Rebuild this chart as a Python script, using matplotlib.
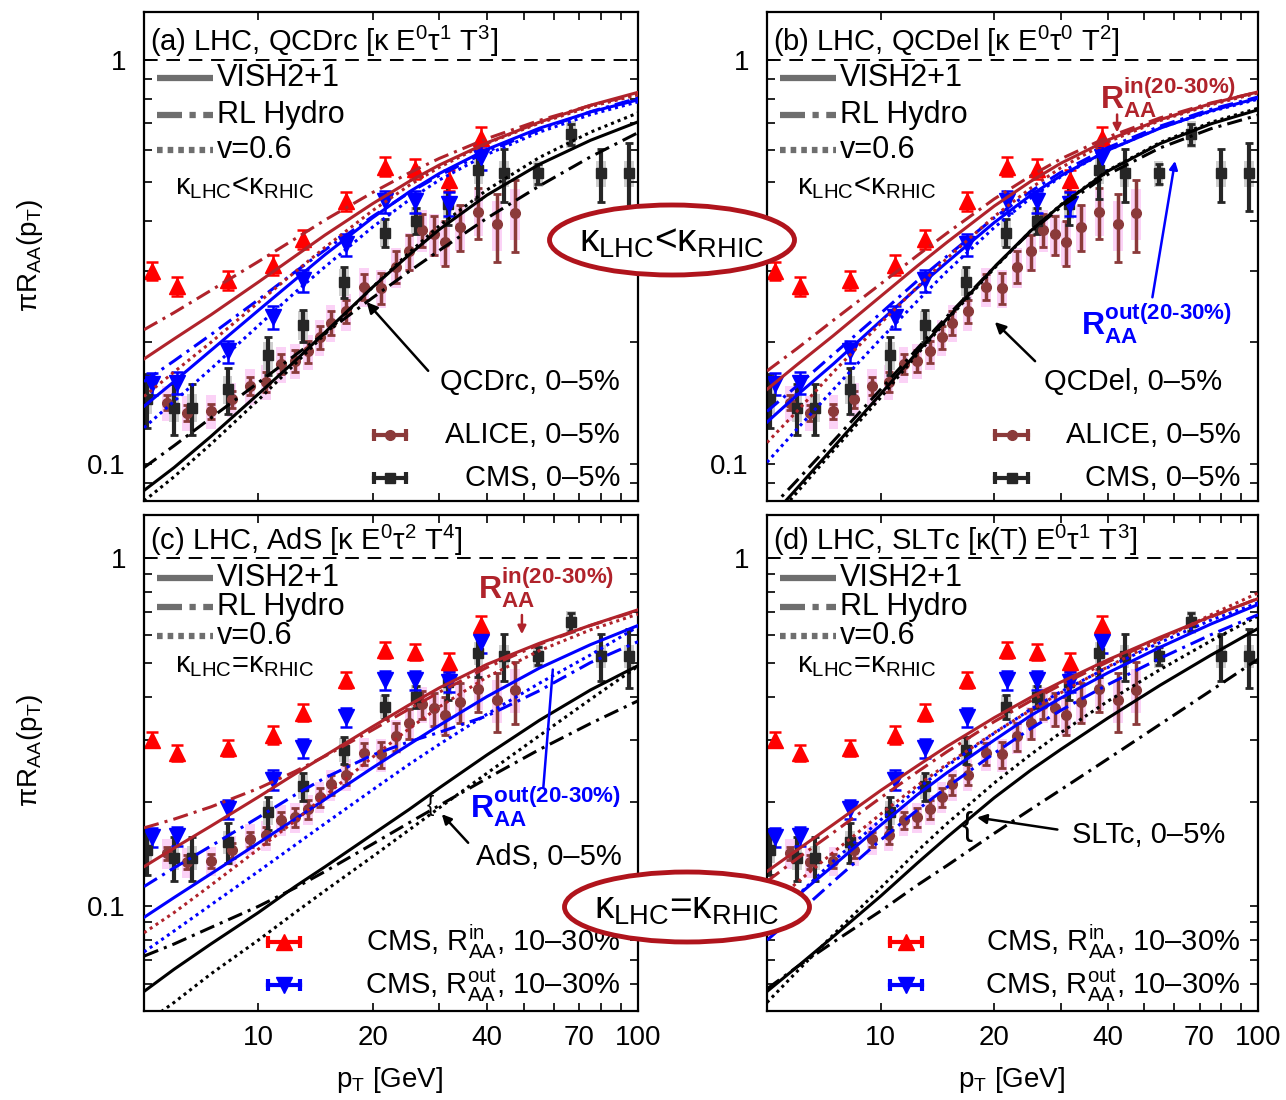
import matplotlib
matplotlib.use("Agg")
import matplotlib.pyplot as plt
from matplotlib.patches import Ellipse, Rectangle
from matplotlib.ticker import FixedLocator, NullFormatter, FixedFormatter

plt.rcParams['font.family'] = ['Liberation Sans', 'DejaVu Sans']
plt.rcParams['mathtext.fontset'] = 'custom'
plt.rcParams['mathtext.rm'] = 'Liberation Sans'
plt.rcParams['mathtext.it'] = 'Liberation Sans:italic'
plt.rcParams['mathtext.bf'] = 'Liberation Sans:bold'
plt.rcParams['mathtext.default'] = 'regular'

# ---------------------------------------------------------------- data
PT_GRID = [5, 6, 7.5, 10, 12.5, 15, 20, 25, 30, 40, 55, 75, 100]

# (a) QCDrc, kappa_LHC < kappa_RHIC
QCDRC_IN_VISH = [0.182, 0.204, 0.234, 0.282, 0.327, 0.369, 0.441, 0.501, 0.550, 0.624, 0.702, 0.773, 0.832]
QCDRC_IN_RL = [0.215, 0.237, 0.269, 0.317, 0.361, 0.402, 0.470, 0.526, 0.571, 0.639, 0.709, 0.772, 0.824]
QCDRC_IN_V06 = [0.147, 0.169, 0.200, 0.251, 0.299, 0.344, 0.424, 0.490, 0.543, 0.622, 0.698, 0.767, 0.820]
QCDRC_OUT_VISH = [0.139, 0.160, 0.191, 0.240, 0.286, 0.330, 0.407, 0.472, 0.524, 0.601, 0.678, 0.744, 0.797]
QCDRC_OUT_RL = [0.160, 0.180, 0.209, 0.255, 0.299, 0.339, 0.410, 0.470, 0.518, 0.593, 0.672, 0.745, 0.805]
QCDRC_OUT_V06 = [0.123, 0.143, 0.172, 0.220, 0.266, 0.308, 0.386, 0.451, 0.505, 0.584, 0.663, 0.733, 0.788]
QCDRC_CENT_VISH = [0.086, 0.098, 0.117, 0.149, 0.180, 0.212, 0.274, 0.330, 0.381, 0.463, 0.552, 0.633, 0.703]
QCDRC_CENT_RL = [0.098, 0.111, 0.130, 0.159, 0.186, 0.211, 0.258, 0.300, 0.338, 0.406, 0.488, 0.576, 0.661]
QCDRC_CENT_V06 = [0.081, 0.093, 0.112, 0.144, 0.177, 0.210, 0.274, 0.334, 0.389, 0.477, 0.574, 0.663, 0.740]

# (b) QCDel, kappa_LHC < kappa_RHIC
QCDEL_IN_VISH = [0.153, 0.176, 0.208, 0.260, 0.309, 0.354, 0.435, 0.501, 0.555, 0.634, 0.712, 0.780, 0.834]
QCDEL_IN_RL = [0.170, 0.193, 0.227, 0.279, 0.328, 0.373, 0.453, 0.517, 0.569, 0.645, 0.719, 0.783, 0.833]
QCDEL_IN_V06 = [0.113, 0.135, 0.169, 0.223, 0.274, 0.323, 0.410, 0.482, 0.541, 0.627, 0.708, 0.775, 0.829]
QCDEL_OUT_VISH = [0.127, 0.148, 0.177, 0.226, 0.273, 0.316, 0.396, 0.463, 0.517, 0.598, 0.678, 0.749, 0.805]
QCDEL_OUT_RL = [0.135, 0.156, 0.187, 0.236, 0.284, 0.327, 0.407, 0.473, 0.527, 0.607, 0.686, 0.755, 0.810]
QCDEL_OUT_V06 = [0.101, 0.122, 0.153, 0.204, 0.253, 0.300, 0.385, 0.456, 0.514, 0.598, 0.679, 0.746, 0.800]
QCDEL_CENT_VISH = [0.072, 0.087, 0.110, 0.149, 0.189, 0.229, 0.307, 0.378, 0.437, 0.531, 0.621, 0.695, 0.753]
QCDEL_CENT_RL = [0.076, 0.091, 0.114, 0.153, 0.193, 0.232, 0.307, 0.376, 0.432, 0.521, 0.606, 0.676, 0.730]
QCDEL_CENT_V06 = [0.070, 0.085, 0.108, 0.146, 0.187, 0.227, 0.305, 0.378, 0.438, 0.533, 0.625, 0.701, 0.760]

# (c) AdS, kappa_LHC = kappa_RHIC
ADS_IN_VISH = [0.130, 0.147, 0.170, 0.206, 0.240, 0.271, 0.328, 0.379, 0.424, 0.495, 0.569, 0.641, 0.710]
ADS_IN_RL = [0.168, 0.178, 0.193, 0.218, 0.244, 0.270, 0.321, 0.369, 0.412, 0.485, 0.565, 0.640, 0.706]
ADS_IN_V06 = [0.084, 0.096, 0.115, 0.146, 0.176, 0.208, 0.268, 0.324, 0.374, 0.455, 0.542, 0.622, 0.690]
ADS_OUT_VISH = [0.093, 0.106, 0.124, 0.152, 0.178, 0.203, 0.250, 0.292, 0.331, 0.400, 0.483, 0.564, 0.640]
ADS_OUT_RL = [0.114, 0.129, 0.149, 0.180, 0.209, 0.234, 0.272, 0.297, 0.316, 0.352, 0.416, 0.501, 0.575]
ADS_OUT_V06 = [0.074, 0.085, 0.101, 0.126, 0.150, 0.173, 0.216, 0.256, 0.292, 0.356, 0.437, 0.527, 0.635]
ADS_CENT_VISH = [0.057, 0.066, 0.078, 0.096, 0.114, 0.130, 0.161, 0.190, 0.219, 0.272, 0.342, 0.418, 0.491]
ADS_CENT_RL = [0.072, 0.078, 0.087, 0.100, 0.113, 0.126, 0.151, 0.174, 0.195, 0.233, 0.282, 0.335, 0.389]
ADS_CENT_V06 = [0.046, 0.053, 0.064, 0.080, 0.096, 0.111, 0.139, 0.166, 0.192, 0.241, 0.309, 0.393, 0.489]

# (d) SLTc, kappa_LHC = kappa_RHIC
SLTC_IN_VISH = [0.126, 0.145, 0.172, 0.215, 0.253, 0.288, 0.348, 0.398, 0.440, 0.510, 0.592, 0.679, 0.764]
SLTC_IN_RL = [0.118, 0.137, 0.163, 0.205, 0.243, 0.278, 0.339, 0.389, 0.432, 0.503, 0.587, 0.677, 0.765]
SLTC_IN_V06 = [0.098, 0.117, 0.143, 0.184, 0.222, 0.256, 0.315, 0.366, 0.410, 0.487, 0.582, 0.687, 0.793]
SLTC_OUT_VISH = [0.090, 0.107, 0.131, 0.171, 0.209, 0.242, 0.300, 0.353, 0.396, 0.468, 0.554, 0.646, 0.735]
SLTC_OUT_RL = [0.080, 0.095, 0.118, 0.155, 0.189, 0.220, 0.275, 0.324, 0.365, 0.433, 0.515, 0.602, 0.687]
SLTC_OUT_V06 = [0.088, 0.107, 0.135, 0.177, 0.217, 0.253, 0.314, 0.368, 0.413, 0.485, 0.572, 0.663, 0.743]
SLTC_CENT_VISH = [0.057, 0.067, 0.082, 0.107, 0.133, 0.158, 0.205, 0.246, 0.282, 0.347, 0.431, 0.526, 0.627]
SLTC_CENT_RL = [0.058, 0.067, 0.079, 0.097, 0.115, 0.131, 0.162, 0.190, 0.216, 0.265, 0.333, 0.416, 0.512]
SLTC_CENT_V06 = [0.053, 0.065, 0.083, 0.113, 0.144, 0.173, 0.226, 0.273, 0.315, 0.388, 0.478, 0.578, 0.681]

# ALICE charged hadrons, 0-5%
ALICE_PT = [5.75, 6.5, 7.5, 8.5, 9.5, 10.5, 11.5, 12.5, 13.5, 14.5, 15.5, 17.0,
            19.0, 21.0, 23.0, 25.0, 27.0, 29.0, 31.0, 34.0, 38.0, 42.5, 47.5]
ALICE_RAA = [0.142, 0.134, 0.135, 0.145, 0.156, 0.160, 0.177, 0.180, 0.190, 0.206,
             0.224, 0.239, 0.275, 0.273, 0.308, 0.336, 0.380, 0.370, 0.355, 0.387,
             0.421, 0.392, 0.419]
ALICE_STAT = [0.006, 0.006, 0.006, 0.007, 0.008, 0.009, 0.010, 0.011, 0.012, 0.013,
              0.015, 0.016, 0.020, 0.024, 0.028, 0.033, 0.035, 0.040, 0.045, 0.050,
              0.060, 0.075, 0.085]
ALICE_SYS = [0.014, 0.013, 0.013, 0.014, 0.016, 0.016, 0.018, 0.018, 0.019, 0.021,
             0.023, 0.025, 0.030, 0.030, 0.035, 0.038, 0.045, 0.045, 0.045, 0.050,
             0.055, 0.055, 0.060]

# CMS charged hadrons, 0-5%
CMS_PT = [5.1, 6.0, 6.7, 8.3, 10.6, 13.1, 16.8, 21.5, 26.0, 31.5, 38.0, 44.3,
          54.5, 66.6, 79.9, 94.7]
CMS_RAA = [0.145, 0.138, 0.138, 0.153, 0.186, 0.221, 0.282, 0.374, 0.400, 0.440,
           0.534, 0.524, 0.524, 0.656, 0.524, 0.524]
CMS_STAT = [0.022, 0.020, 0.020, 0.020, 0.020, 0.020, 0.025, 0.030, 0.030, 0.050,
            0.080, 0.080, 0.030, 0.040, 0.080, 0.100]
CMS_SYS = [0.012, 0.011, 0.011, 0.012, 0.015, 0.018, 0.022, 0.030, 0.032, 0.035,
           0.040, 0.040, 0.040, 0.050, 0.040, 0.040]

# CMS in-plane / out-of-plane, 10-30%
CMS_V2_PT = [5.25, 6.1, 8.3, 10.95, 13.1, 16.97, 21.6, 25.9, 31.7, 38.5]
CMS_IN_RAA = [0.301, 0.276, 0.285, 0.311, 0.360, 0.447, 0.545, 0.538, 0.504, 0.643]
CMS_IN_ERR = [0.015, 0.015, 0.015, 0.018, 0.020, 0.025, 0.030, 0.030, 0.030, 0.040]
CMS_OUT_RAA = [0.158, 0.159, 0.190, 0.231, 0.285, 0.350, 0.447, 0.447, 0.441, 0.574]
CMS_OUT_ERR = [0.010, 0.010, 0.012, 0.015, 0.018, 0.022, 0.028, 0.028, 0.030, 0.040]

X_TICKS = [10, 20, 40, 70, 100]
X_MINOR = [30, 50, 60, 80, 90]
Y_TICKS = [0.1, 1]

# ---------------------------------------------------------------- style
C_IN = '#b0232b'
C_OUT = '#0000ff'
C_CENT = 'black'
C_ALICE = '#8b3a3a'
C_CMS = '#262626'
LS = {'VISH': '-', 'RL': (0, (5, 2, 1, 2)), 'V06': (0, (1, 1.3))}
FS = 21
LFS = 22

W, H = 1286, 1100
fig = plt.figure(figsize=(12.86, 11.0), dpi=100)


def box(l, t, r, b):
    return [l / W, 1 - b / H, (r - l) / W, (b - t) / H]


def draw_data(ax):
    for pt, v, s in zip(ALICE_PT, ALICE_RAA, ALICE_SYS):
        ax.add_patch(Rectangle((pt / 1.03, v - s), pt * 1.03 - pt / 1.03, 2 * s,
                               fc='#fbd2f6', ec='none', zorder=1))
    for pt, v, s in zip(CMS_PT, CMS_RAA, CMS_SYS):
        ax.add_patch(Rectangle((pt / 1.03, v - s), pt * 1.03 - pt / 1.03, 2 * s,
                               fc='#cfcfcf', ec='none', zorder=1))
    ax.errorbar(ALICE_PT, ALICE_RAA, yerr=ALICE_STAT, fmt='o', color=C_ALICE,
                ms=7, capsize=3, elinewidth=2.5, capthick=2, zorder=2)
    ax.errorbar(CMS_PT, CMS_RAA, yerr=CMS_STAT, fmt='s', color=C_CMS,
                ms=7, capsize=3, elinewidth=3, capthick=2, zorder=2)
    ax.errorbar(CMS_V2_PT, CMS_IN_RAA, yerr=CMS_IN_ERR, fmt='^', color='red',
                ms=12, capsize=4, elinewidth=1.8, capthick=1.8, zorder=2)
    ax.errorbar(CMS_V2_PT, CMS_OUT_RAA, yerr=CMS_OUT_ERR, fmt='v', color=C_OUT,
                ms=12, capsize=4, elinewidth=1.8, capthick=1.8, zorder=2)


def draw_curves(ax, curves):
    for (vals, color, model) in curves:
        ax.plot(PT_GRID, vals, color=color, ls=LS[model], lw=2.2, zorder=3)


def sample(ax, xc, y, color, marker, ms):
    ax.plot([xc - 0.033, xc + 0.033], [y, y], color=color, lw=3,
            transform=ax.transAxes, zorder=5)
    ax.plot([xc - 0.033, xc + 0.033], [y, y], ls='none', marker='|', ms=9,
            mew=3, color=color, transform=ax.transAxes, zorder=5)
    ax.plot([xc], [y], ls='none', marker=marker, ms=ms, color=color,
            transform=ax.transAxes, zorder=5)


def model_legend(ax, ys, kappa):
    for y, model, label in zip(ys[:3], ['VISH', 'RL', 'V06'],
                               ['VISH2+1', 'RL Hydro', 'v=0.6']):
        ls = {'VISH': '-', 'RL': (0, (4, 1.2, 1, 1.2)), 'V06': (0, (0.9, 0.8))}[model]
        ax.plot([0.026, 0.14], [y, y], color='#6e6e6e', lw=4.5, ls=ls,
                transform=ax.transAxes, zorder=5, solid_capstyle='butt')
        ax.text(0.148, y, label, transform=ax.transAxes, fontsize=LFS,
                va='center', ha='left', zorder=6)
    ax.text(0.062, ys[3], kappa, transform=ax.transAxes, fontsize=FS,
            va='center', ha='left', zorder=6)


def setup(ax, ylim, bottom):
    ax.set_xscale('log')
    ax.set_yscale('log')
    ax.set_xlim(5, 100)
    ax.set_ylim(*ylim)
    ax.axhline(1, color='black', lw=1.4, ls=(0, (7, 4.5)), zorder=4)
    ax.xaxis.set_major_locator(FixedLocator(X_TICKS))
    ax.xaxis.set_minor_locator(FixedLocator(X_MINOR))
    ax.xaxis.set_minor_formatter(NullFormatter())
    if bottom:
        ax.xaxis.set_major_formatter(FixedFormatter([str(t) for t in X_TICKS]))
    else:
        ax.xaxis.set_major_formatter(NullFormatter())
    ax.yaxis.set_major_locator(FixedLocator(Y_TICKS))
    ax.yaxis.set_major_formatter(FixedFormatter(['0.1', '1']))
    ax.yaxis.set_minor_locator(FixedLocator(
        [0.05, 0.06, 0.07, 0.08, 0.09, 0.2, 0.3, 0.4, 0.5, 0.6, 0.7, 0.8, 0.9]))
    ax.yaxis.set_minor_formatter(NullFormatter())
    ax.tick_params(which='both', direction='in', top=True, right=True,
                   length=6, width=1.2, labelsize=20)
    ax.tick_params(axis='y', which='major', pad=13)
    ax.tick_params(axis='x', which='major', pad=10)
    for sp in ax.spines.values():
        sp.set_linewidth(1.6)


def curves_for(in_v, in_r, in_d, out_v, out_r, out_d, c_v, c_r, c_d):
    return [(c_v, C_CENT, 'VISH'), (c_r, C_CENT, 'RL'), (c_d, C_CENT, 'V06'),
            (out_d, C_OUT, 'V06'), (out_r, C_OUT, 'RL'), (out_v, C_OUT, 'VISH'),
            (in_d, C_IN, 'V06'), (in_r, C_IN, 'RL'), (in_v, C_IN, 'VISH')]


K_LT = 'κ$_{LHC}$<κ$_{RHIC}$'
K_EQ = 'κ$_{LHC}$=κ$_{RHIC}$'
R_IN = 'R$_{AA}^{in(20\u201030\\%)}$'
R_OUT = 'R$_{AA}^{out(20\u201030\\%)}$'


def label_text(ax, x, y, txt, ha='right'):
    ax.text(x, y, txt, transform=ax.transAxes, fontsize=FS, ha=ha, va='center')


def arrow(ax, tip, tail, color='black', head=True, scale=16):
    style = '-|>' if head else '-'
    ax.annotate('', xy=tip, xytext=tail, xycoords='axes fraction',
                arrowprops=dict(arrowstyle=style, color=color, lw=1.8,
                                mutation_scale=scale))


# ---------------------------------------------------------------- (a)
axa = fig.add_axes(box(144, 12, 638, 501))
setup(axa, (0.081, 1.315), False)
draw_data(axa)
draw_curves(axa, curves_for(QCDRC_IN_VISH, QCDRC_IN_RL, QCDRC_IN_V06,
                            QCDRC_OUT_VISH, QCDRC_OUT_RL, QCDRC_OUT_V06,
                            QCDRC_CENT_VISH, QCDRC_CENT_RL, QCDRC_CENT_V06))
axa.text(0.012, 0.94, '(a) LHC, QCDrc [κ E$^{0}$τ$^{1}$ T$^{3}$]',
         transform=axa.transAxes, fontsize=FS, va='center')
model_legend(axa, [0.865, 0.789, 0.718, 0.642], K_LT)
arrow(axa, (0.447, 0.411), (0.579, 0.262))
label_text(axa, 0.964, 0.243, 'QCDrc, 0–5%')
sample(axa, 0.498, 0.135, C_ALICE, 'o', 7)
sample(axa, 0.498, 0.047, C_CMS, 's', 7)
label_text(axa, 0.964, 0.135, 'ALICE, 0–5%')
label_text(axa, 0.964, 0.047, 'CMS, 0–5%')

# ---------------------------------------------------------------- (b)
axb = fig.add_axes(box(767, 12, 1258, 501))
setup(axb, (0.081, 1.315), False)
draw_data(axb)
draw_curves(axb, curves_for(QCDEL_IN_VISH, QCDEL_IN_RL, QCDEL_IN_V06,
                            QCDEL_OUT_VISH, QCDEL_OUT_RL, QCDEL_OUT_V06,
                            QCDEL_CENT_VISH, QCDEL_CENT_RL, QCDEL_CENT_V06))
axb.text(0.012, 0.94, '(b) LHC, QCDel [κ E$^{0}$τ$^{0}$ T$^{2}$]',
         transform=axb.transAxes, fontsize=FS, va='center')
model_legend(axb, [0.865, 0.789, 0.718, 0.642], K_LT)
arrow(axb, (0.460, 0.370), (0.550, 0.282))
label_text(axb, 0.927, 0.243, 'QCDel, 0–5%')
axb.text(0.678, 0.825, R_IN, transform=axb.transAxes, fontsize=23,
         color=C_IN, fontweight='bold', ha='left', va='center', zorder=6)
arrow(axb, (0.713, 0.748), (0.713, 0.796), color=C_IN, scale=12)
axb.text(0.640, 0.362, R_OUT, transform=axb.transAxes, fontsize=23,
         color=C_OUT, fontweight='bold', ha='left', va='center', zorder=6)
arrow(axb, (0.832, 0.701), (0.784, 0.411), color=C_OUT, scale=12)
sample(axb, 0.498, 0.135, C_ALICE, 'o', 7)
sample(axb, 0.498, 0.047, C_CMS, 's', 7)
label_text(axb, 0.964, 0.135, 'ALICE, 0–5%')
label_text(axb, 0.964, 0.047, 'CMS, 0–5%')

# ---------------------------------------------------------------- (c)
axc = fig.add_axes(box(144, 515, 638, 1011))
setup(axc, (0.0501, 1.328), True)
draw_data(axc)
draw_curves(axc, curves_for(ADS_IN_VISH, ADS_IN_RL, ADS_IN_V06,
                            ADS_OUT_VISH, ADS_OUT_RL, ADS_OUT_V06,
                            ADS_CENT_VISH, ADS_CENT_RL, ADS_CENT_V06))
axc.text(0.012, 0.948, '(c) LHC, AdS [κ E$^{0}$τ$^{2}$ T$^{4}$]',
         transform=axc.transAxes, fontsize=FS, va='center')
model_legend(axc, [0.873, 0.815, 0.756, 0.698], K_EQ)
axc.text(0.676, 0.853, R_IN, transform=axc.transAxes, fontsize=23,
         color=C_IN, fontweight='bold', ha='left', va='center', zorder=6)
arrow(axc, (0.765, 0.754), (0.765, 0.804), color=C_IN, scale=12)
axc.text(0.660, 0.411, R_OUT, transform=axc.transAxes, fontsize=23,
         color=C_OUT, fontweight='bold', ha='left', va='center', zorder=6)
arrow(axc, (0.828, 0.694), (0.808, 0.446), color=C_OUT, head=False)
axc.text(0.579, 0.415, '{', transform=axc.transAxes, fontsize=16,
         ha='center', va='center')
arrow(axc, (0.599, 0.401), (0.66, 0.335), scale=14)
label_text(axc, 0.968, 0.31, 'AdS, 0–5%')
sample(axc, 0.283, 0.139, 'red', '^', 12)
sample(axc, 0.283, 0.052, C_OUT, 'v', 12)
label_text(axc, 0.964, 0.139, 'CMS, R$_{AA}^{in}$, 10–30%')
label_text(axc, 0.964, 0.052, 'CMS, R$_{AA}^{out}$, 10–30%')

# ---------------------------------------------------------------- (d)
axd = fig.add_axes(box(767, 515, 1258, 1011))
setup(axd, (0.0501, 1.328), True)
draw_data(axd)
draw_curves(axd, curves_for(SLTC_IN_VISH, SLTC_IN_RL, SLTC_IN_V06,
                            SLTC_OUT_VISH, SLTC_OUT_RL, SLTC_OUT_V06,
                            SLTC_CENT_VISH, SLTC_CENT_RL, SLTC_CENT_V06))
axd.text(0.012, 0.948, '(d) LHC, SLTc [κ(T) E$^{0}$τ$^{1}$ T$^{3}$]',
         transform=axd.transAxes, fontsize=FS, va='center')
model_legend(axd, [0.873, 0.815, 0.756, 0.698], K_EQ)
axd.text(0.407, 0.371, '{', transform=axd.transAxes, fontsize=24,
         ha='center', va='center')
arrow(axd, (0.422, 0.391), (0.597, 0.365), scale=14)
label_text(axd, 0.933, 0.355, 'SLTc, 0–5%')
sample(axd, 0.283, 0.139, 'red', '^', 12)
sample(axd, 0.283, 0.052, C_OUT, 'v', 12)
label_text(axd, 0.964, 0.139, 'CMS, R$_{AA}^{in}$, 10–30%')
label_text(axd, 0.964, 0.052, 'CMS, R$_{AA}^{out}$, 10–30%')

# ---------------------------------------------------------------- labels
for yc in (255, 750):
    fig.text(30 / W, 1 - yc / H, 'πR$_{AA}$(p$_{T}$)', rotation=90,
             fontsize=20, ha='center', va='center')
for xc in (390, 1012):
    fig.text(xc / W, 1 - 1080 / H, 'p$_{T}$ [GeV]', fontsize=20,
             ha='center', va='center')

# kappa comparison badges
for (cx, cy, txt) in ((672, 240, K_LT), (687, 907, K_EQ)):
    fig.patches.append(Ellipse((cx / W, 1 - cy / H), 245 / W, 70 / H,
                               transform=fig.transFigure, fc='white',
                               ec='#b0141c', lw=3.5, zorder=10))
    fig.text(cx / W, 1 - (cy + 2) / H, txt, fontsize=28, ha='center',
             va='center', zorder=11)

fig.savefig('out.png', dpi=100)
